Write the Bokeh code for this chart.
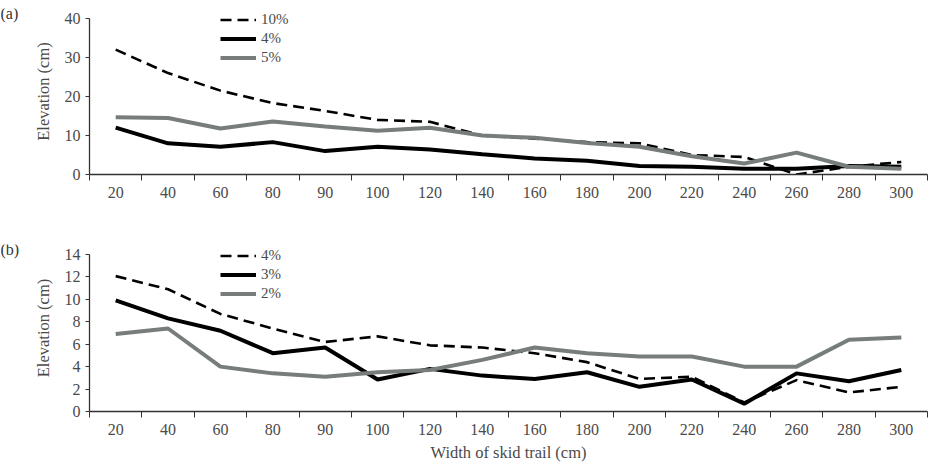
from bokeh.plotting import figure
from bokeh.layouts import column, row
from bokeh.models import FixedTicker, Legend, LegendItem, Range1d
from bokeh.core.properties import value
from bokeh.embed import file_html
from bokeh.resources import INLINE

widths = ["20", "40", "60", "80", "90", "100", "120", "140", "160", "180",
          "200", "220", "240", "260", "280", "300"]

# Panel (a)
a_names = ["10%", "4%", "5%"]
a_10 = [32, 26, 21.5, 18.3, 16.3, 14, 13.5, 10, 9.2, 8.3, 8, 5, 4.5, 0, 2, 3.2]
a_4 = [12, 8, 7.1, 8.3, 6, 7.1, 6.4, 5.2, 4.1, 3.5, 2.2, 2, 1.5, 1.5, 2.2, 2]
a_5 = [14.7, 14.5, 11.8, 13.6, 12.3, 11.2, 12, 10, 9.4, 8.1, 7.1, 4.7, 2.8, 5.6, 2, 1.5]

# Panel (b)
b_names = ["4%", "3%", "2%"]
b_4 = [12.07, 10.9, 8.7, 7.4, 6.2, 6.7, 5.9, 5.7, 5.2, 4.4, 2.9, 3.1, 0.8, 2.8, 1.7, 2.2]
b_3 = [9.9, 8.3, 7.2, 5.2, 5.7, 2.85, 3.8, 3.2, 2.9, 3.5, 2.2, 2.85, 0.7, 3.4, 2.7, 3.7]
b_2 = [6.9, 7.4, 4.0, 3.4, 3.1, 3.5, 3.7, 4.6, 5.7, 5.2, 4.9, 4.9, 4.0, 4.0, 6.4, 6.6]

FONT = "Liberation Serif"
TXT = "#4a4a4a"
GRAY = "#767d7a"
TAGW = 30

xs = [i + 0.5 for i in range(len(widths))]


def make_tag(height, tag):
    t = figure(width=TAGW, height=height, output_backend="svg", toolbar_location=None,
               x_range=Range1d(0, TAGW), y_range=Range1d(0, height),
               min_border=0)
    t.axis.visible = False
    t.grid.visible = False
    t.outline_line_color = None
    t.background_fill_color = None
    t.text(x=[0], y=[height - 7], text=[tag], text_font=value(FONT),
           text_font_size="16px", text_color="#333333", text_baseline="middle")
    return t


def make_panel(height, top, bottom, ymax, ytop, ystep, series, names, xlabel=None,
               legend_y=0):
    p = figure(width=929 - TAGW, height=height, output_backend="svg",
               toolbar_location=None,
               x_range=Range1d(0, len(widths)), y_range=Range1d(0, ytop),
               min_border_left=89 - TAGW, min_border_right=2, min_border_top=top,
               min_border_bottom=bottom)
    p.outline_line_color = None
    p.xgrid.visible = False
    p.ygrid.visible = False
    p.background_fill_color = None

    styles = [dict(line_color="black", line_width=2.6, line_dash="11 6"),
              dict(line_color="black", line_width=4),
              dict(line_color=GRAY, line_width=4)]
    renderers = []
    for ys, st in zip(series, styles):
        renderers.append(p.line(xs, ys, **st))

    xa = p.xaxis[0]
    xa.ticker = FixedTicker(ticks=xs, minor_ticks=list(range(len(widths) + 1)))
    xa.major_label_overrides = {x: w for x, w in zip(xs, widths)}
    xa.major_tick_out = 0
    xa.major_tick_in = 0
    xa.minor_tick_out = 6
    xa.minor_tick_in = 0
    xa.minor_tick_line_color = "#333333"
    xa.axis_line_color = "#333333"
    xa.axis_line_width = 1.3
    xa.major_label_standoff = 6
    xa.major_label_text_font = FONT
    xa.major_label_text_font_size = "16px"
    xa.major_label_text_color = TXT
    if xlabel:
        xa.axis_label = xlabel
        xa.axis_label_text_font = FONT
        xa.axis_label_text_font_size = "16.5px"
        xa.axis_label_text_font_style = "normal"
        xa.axis_label_text_color = TXT
        xa.axis_label_standoff = 5

    ya = p.yaxis[0]
    ya.bounds = (0, ymax)
    ya.ticker = FixedTicker(ticks=list(range(0, ymax + 1, ystep)))
    ya.major_tick_out = 4
    ya.major_tick_in = 0
    ya.minor_tick_out = 0
    ya.minor_tick_in = 0
    ya.axis_line_color = "#333333"
    ya.axis_line_width = 1.3
    ya.major_tick_line_color = "#333333"
    ya.major_label_standoff = 5
    ya.major_label_text_font = FONT
    ya.major_label_text_font_size = "16px"
    ya.major_label_text_color = TXT
    ya.axis_label = "Elevation (cm)"
    ya.axis_label_text_font = FONT
    ya.axis_label_text_font_size = "16.5px"
    ya.axis_label_text_font_style = "normal"
    ya.axis_label_text_color = TXT
    ya.axis_label_standoff = 9

    items = [LegendItem(label=n, renderers=[r]) for n, r in zip(names, renderers)]
    leg = Legend(items=items, location=(131, legend_y), orientation="vertical",
                 glyph_width=36, glyph_height=19, label_height=19, spacing=0,
                 padding=0, margin=0, label_standoff=5,
                 label_text_font=FONT, label_text_font_size="15px",
                 label_text_color=TXT, border_line_color=None,
                 background_fill_alpha=0)
    p.add_layout(leg, "center")
    return p


# panel (a): 40 at y=18, 0 at y=174 -> 3.9 px/unit, frame top at y=8
pa = make_panel(228, 8, 54, 40, 42.56, 10, [a_10, a_4, a_5], a_names, legend_y=107)
# panel (b): 14 at y=254, 0 at y=411 -> 11.21 px/unit, frame top at y=244
pb = make_panel(236, 16, 53, 14, 14.89, 2, [b_4, b_3, b_2], b_names,
                xlabel="Width of skid trail (cm)", legend_y=108)

layout = column(row(make_tag(228, "(a)"), pa, spacing=0),
                row(make_tag(236, "(b)"), pb, spacing=0), spacing=0)
open("out.html", "w").write(file_html(layout, INLINE))
